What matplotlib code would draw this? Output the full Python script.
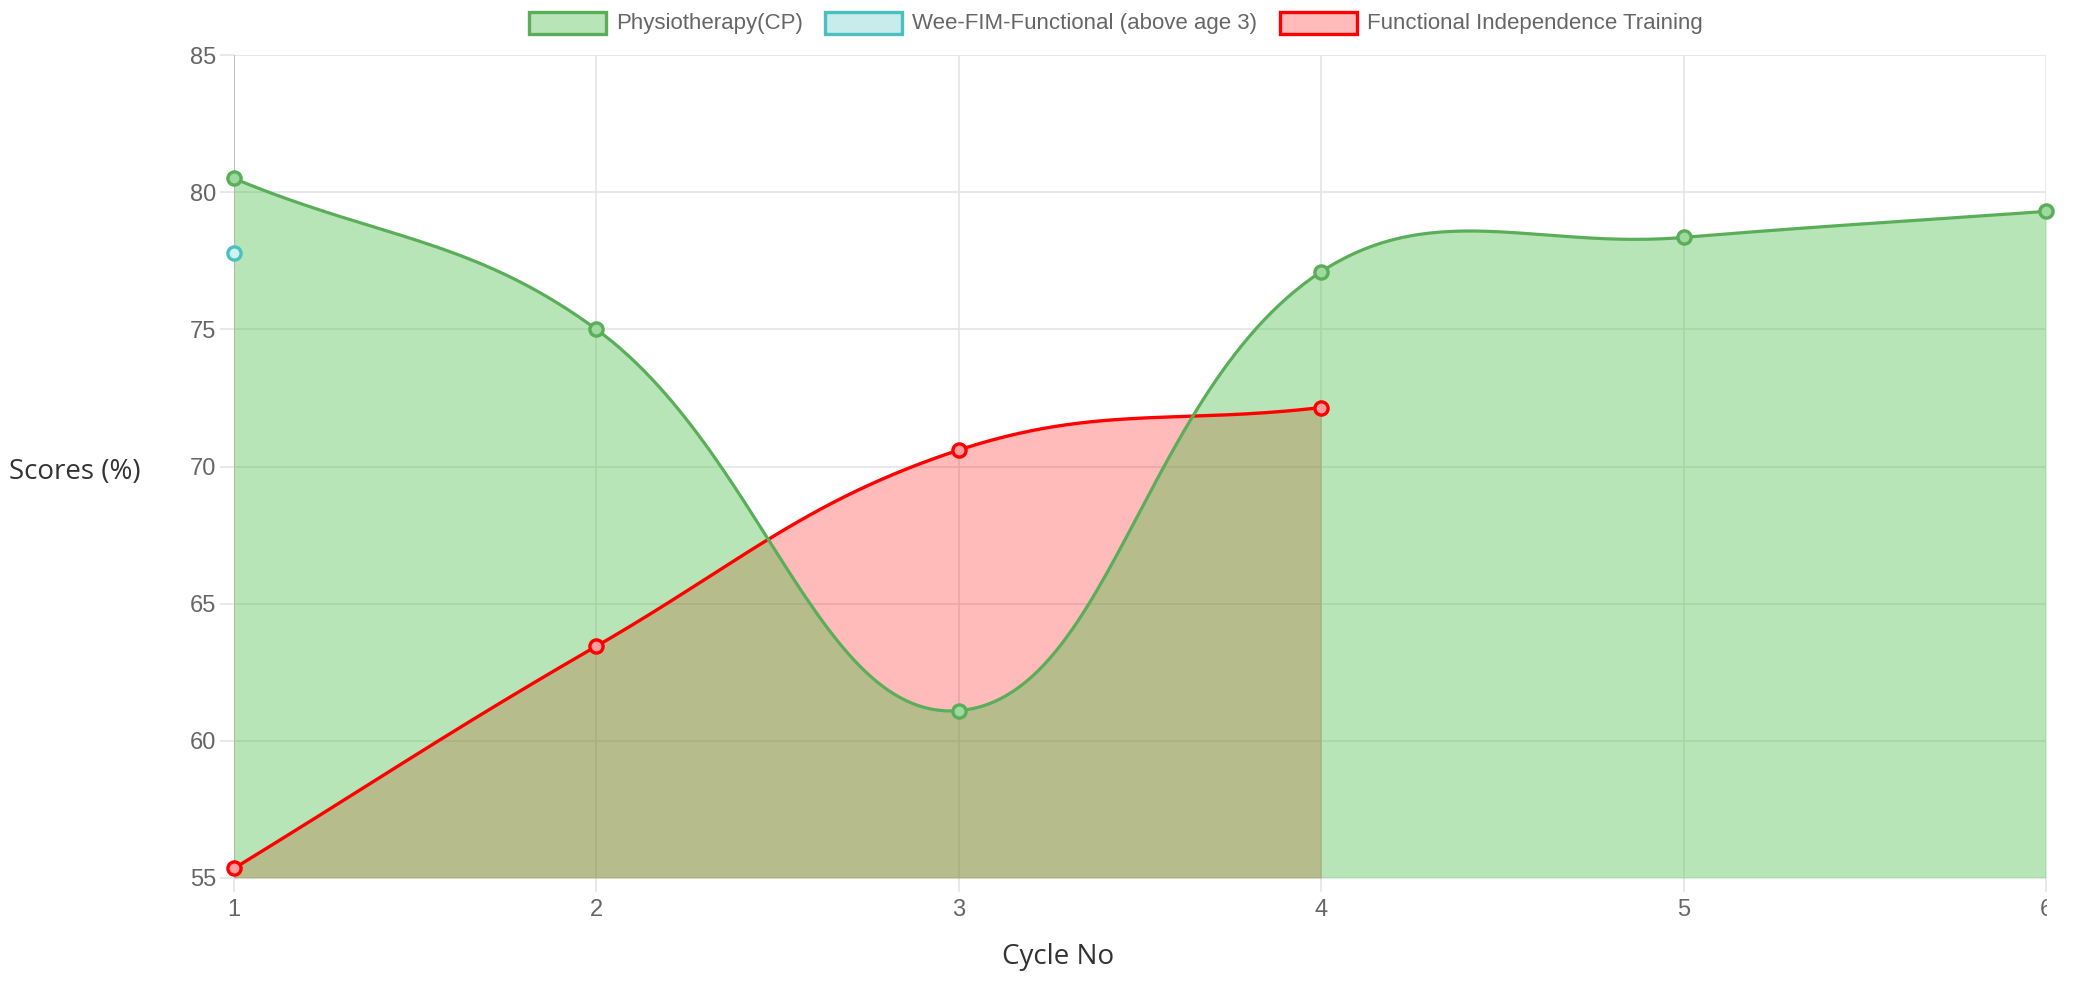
import numpy as np
import matplotlib
matplotlib.use("Agg")
import matplotlib.pyplot as plt
from matplotlib.patches import Rectangle
from matplotlib.transforms import Bbox

# data
cycles = [1, 2, 3, 4, 5, 6]
physio = [80.5, 75.0, 61.1, 77.1, 78.35, 79.3]
weefim = [77.8]
fit_train = [55.35, 63.45, 70.6, 72.15]

labels = ["Physiotherapy(CP)", "Wee-FIM-Functional (above age 3)",
          "Functional Independence Training"]

W, H, DPI = 2073, 981, 100
green_line = "#5aae5a"
green_fill = (75/255, 192/255, 75/255, 0.4)
cyan_line = "#4bc0c0"
cyan_fill = (75/255, 192/255, 192/255, 0.3)
red_line = "#ff0000"
red_fill = (1.0, 0.0, 0.0, 0.27)
tick_col = "#666666"
grid_col = "#e4e4e4"

fig = plt.figure(figsize=(W/DPI, H/DPI), dpi=DPI)
left, right, top, bottom = 234, 2046, 55, 878
ax = fig.add_axes([left/W, 1 - bottom/H, (right-left)/W, (bottom-top)/H])
ax.set_xlim(1, 6)
ax.set_ylim(55, 85)


def spline(xs, ys, t=0.4):
    # chart.js style bezier, worked out in pixel space
    pts = ax.transData.transform(np.column_stack([xs, ys]))
    n = len(pts)
    cps = []
    for i in range(n):
        prev = pts[i-1] if i > 0 else pts[i]
        cur = pts[i]
        nxt = pts[i+1] if i < n-1 else pts[i]
        d01 = np.hypot(*(cur - prev))
        d12 = np.hypot(*(nxt - cur))
        s = d01 + d12
        s01 = d01/s if s else 0
        s12 = d12/s if s else 0
        cp_a = cur - t*s01*(nxt - prev)
        cp_b = cur + t*s12*(nxt - prev)
        cps.append((cp_a, cp_b))
    x0, y0 = ax.transData.transform((1, 85))
    x1, y1 = ax.transData.transform((6, 55))
    out = [pts[0]]
    u = np.linspace(0, 1, 60)[1:, None]
    for i in range(n-1):
        p0, p3 = pts[i], pts[i+1]
        p1, p2 = cps[i][1].copy(), cps[i+1][0].copy()
        for p in (p1, p2):
            p[0] = min(max(p[0], x0), x1)
            p[1] = min(max(p[1], y1), y0)
        seg = ((1-u)**3)*p0 + 3*((1-u)**2)*u*p1 + 3*(1-u)*u**2*p2 + u**3*p3
        out.extend(seg)
    out = ax.transData.inverted().transform(np.array(out))
    return out[:, 0], out[:, 1]


# grid
ax.grid(True, color=grid_col, linewidth=1.2, alpha=1.0)
ax.set_axisbelow(True)
for s in ax.spines.values():
    s.set_visible(False)
ax.axvline(1, color="#bdbdbd", linewidth=1.4, zorder=1)
ax.set_xticks(cycles)
ax.set_yticks(range(55, 86, 5))
ax.tick_params(axis="both", length=10, width=1.2, color=grid_col,
               labelcolor=tick_col, labelsize=17)
ax.tick_params(axis="x", pad=5)
ax.tick_params(axis="y", pad=3)
for lab in ax.get_xticklabels() + ax.get_yticklabels():
    lab.set_family("Liberation Sans")

# red dataset (drawn underneath)
rx, ry = spline(cycles[:len(fit_train)], fit_train)
ax.fill_between(rx, ry, 55, color=red_fill, linewidth=0, zorder=2)

# green dataset
gx, gy = spline(cycles, physio)
ax.fill_between(gx, gy, 55, color=green_fill, linewidth=0, zorder=3)

ax.plot(rx, ry, color=red_line, linewidth=2.4, zorder=4)
ax.plot(cycles[:len(fit_train)], fit_train, "o", ms=9.5, mfc=(1, 0.62, 0.62),
        mec=red_line, mew=2.4, zorder=5, clip_on=False)
ax.plot(gx, gy, color=green_line, linewidth=2.3, zorder=6)
ax.plot(cycles, physio, "o", ms=9.5, mfc=(0.62, 0.85, 0.62), mec=green_line,
        mew=2.4, zorder=7, clip_on=False)
ax.plot(cycles[:1], weefim, "o", ms=9.5, mfc=(0.8, 0.95, 0.95), mec=cyan_line,
        mew=2.4, zorder=7, clip_on=False)

# canvas ends before the picture edge, so the last x label is cut
fig.canvas.draw()
clip = Bbox.from_extents(0, 0, 2047, H)
for lab in ax.get_xticklabels():
    lab.set_clip_box(clip)
    lab.set_clip_on(True)

# axis titles
fig.text(75/W, 1 - 472/H, "Scores (%)", ha="center", va="center",
         fontsize=20, family="Open Sans", color="#333333")
fig.text(1058/W, 1 - 957/H, "Cycle No", ha="center", va="center",
         fontsize=20, family="Open Sans", color="#333333")

# legend
boxes = [529, 825, 1280]
fills = [green_fill, cyan_fill, red_fill]
edges = [green_line, cyan_line, red_line]
for bx, lab, fc, ec in zip(boxes, labels, fills, edges):
    fig.patches.append(Rectangle((bx/W, 1 - 34/H), 77/W, 22/H,
                                 transform=fig.transFigure, facecolor=fc,
                                 edgecolor=ec, linewidth=2.4))
    fig.text((bx + 87)/W, 1 - 23/H, lab, ha="left", va="center",
             fontsize=16, family="Liberation Sans", color=tick_col)

fig.savefig("out.png", dpi=DPI)
